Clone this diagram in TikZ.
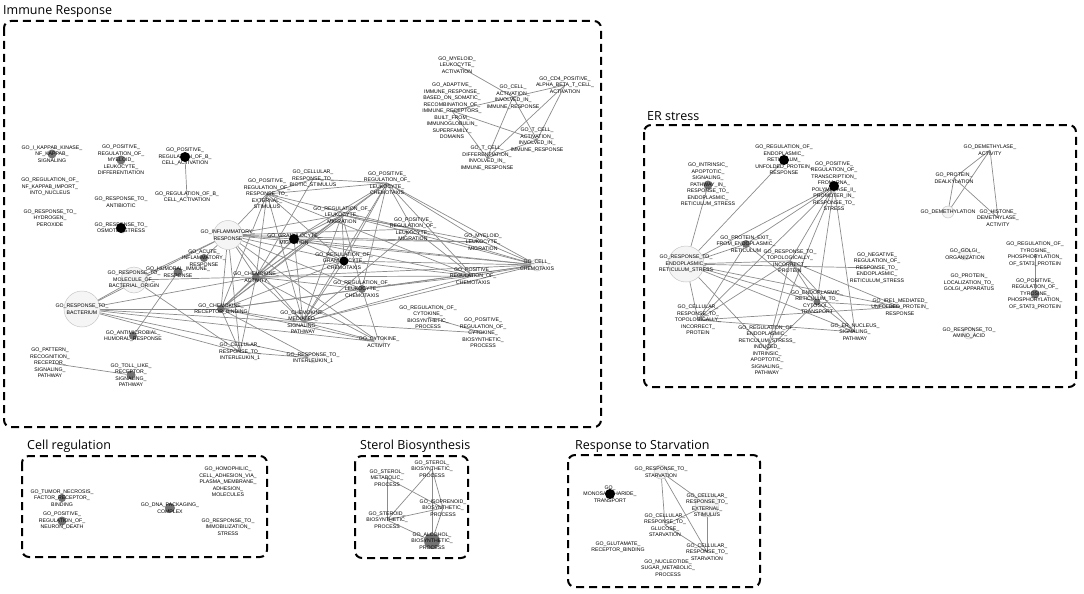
\documentclass[tikz,border=0pt]{standalone}
\usepackage{fontspec}
\setmainfont{Liberation Sans}
\newfontfamily\titlefont{Open Sans}
\newfontfamily\lblfamily{Liberation Sans}
\pgfdeclarelayer{bg}
\pgfsetlayers{bg,main}
\tikzset{
  lbl/.style={align=center,inner sep=0pt,font=\lblfamily\fontsize{5.2}{6.5}\selectfont},
  gnnone/.style={circle,inner sep=0pt,minimum size=0pt},
  gnlight/.style={circle,draw=black!22,fill=black!4,line width=0.5pt,minimum size=#1,inner sep=0pt},
  gndark/.style={circle,fill=black!55,minimum size=#1,inner sep=0pt},
  gnblack/.style={circle,fill=black,minimum size=#1,inner sep=0pt},
  gnlink/.style={draw=black!45,line width=0.7pt},
  grpbox/.style={draw=black,line width=2pt,dash pattern=on 8pt off 5pt,rounded corners=7pt},
  grptitle/.style={font=\titlefont\fontsize{12.5}{14}\selectfont,anchor=base west,inner sep=0pt}
}
\newcommand{\gon}[4]{\node[#3] (#1) at (#2) {}; \node[lbl] (#1-t) at (#2) {#4};}
\begin{document}
\begin{tikzpicture}[x=1pt,y=-1pt]
\useasboundingbox (0,0) rectangle (1084,594);

% group frames and titles
\draw[grpbox] (4,21) rectangle (601,427);
\draw[grpbox] (644,125) rectangle (1076,387);
\draw[grpbox] (22,456) rectangle (267,557);
\draw[grpbox] (355,456) rectangle (468,558);
\draw[grpbox] (568,455) rectangle (760,587);
\node[grptitle] (t1) at (3,15) {Immune Response};
\node[grptitle] (t2) at (647,120) {ER stress};
\node[grptitle] (t3) at (27,449) {Cell regulation};
\node[grptitle] (t4) at (360,449) {Sterol Biosynthesis};
\node[grptitle] (t5) at (575,449) {Response to Starvation};

% ---------------- Immune response ----------------
\gon{myelact}{457,65}{gnnone}{GO\_MYELOID\_\\LEUKOCYTE\_\\ACTIVATION}
\gon{adaptive}{452,111}{gnnone}{GO\_ADAPTIVE\_\\IMMUNE\_RESPONSE\_\\BASED\_ON\_SOMATIC\_\\RECOMBINATION\_OF\_\\IMMUNE\_RECEPTORS\_\\BUILT\_FROM\_\\IMMUNOGLOBULIN\_\\SUPERFAMILY\_\\DOMAINS}
\gon{cellact}{513,97}{gnnone}{GO\_CELL\_\\ACTIVATION\_\\INVOLVED\_IN\_\\IMMUNE\_RESPONSE}
\gon{cdfour}{565,85}{gnnone}{GO\_CD4\_POSITIVE\_\\ALPHA\_BETA\_T\_CELL\_\\ACTIVATION}
\gon{tcellact}{537,140}{gnnone}{GO\_T\_CELL\_\\ACTIVATION\_\\INVOLVED\_IN\_\\IMMUNE\_RESPONSE}
\gon{tcelldiff}{487,158}{gnnone}{GO\_T\_CELL\_\\DIFFERENTIATION\_\\INVOLVED\_IN\_\\IMMUNE\_RESPONSE}
\gon{ikappab}{52,154}{gndark=9pt}{GO\_I\_KAPPAB\_KINASE\_\\NF\_KAPPAB\_\\SIGNALING}
\gon{posmyeldiff}{121,160}{gndark=9pt}{GO\_POSITIVE\_\\REGULATION\_OF\_\\MYELOID\_\\LEUKOCYTE\_\\DIFFERENTIATION}
\gon{posbcell}{185,157}{gnblack=10pt}{GO\_POSITIVE\_\\REGULATION\_OF\_B\_\\CELL\_ACTIVATION}
\gon{regbcell}{187,197}{gnnone}{GO\_REGULATION\_OF\_B\_\\CELL\_ACTIVATION}
\gon{nfkappab}{50,187}{gnnone}{GO\_REGULATION\_OF\_\\NF\_KAPPAB\_IMPORT\_\\INTO\_NUCLEUS}
\gon{antibiotic}{121,202}{gnnone}{GO\_RESPONSE\_TO\_\\ANTIBIOTIC}
\gon{hydrogen}{50,218}{gnnone}{GO\_RESPONSE\_TO\_\\HYDROGEN\_\\PEROXIDE}
\gon{osmotic}{121,228}{gnblack=10pt}{GO\_RESPONSE\_TO\_\\OSMOTIC\_STRESS}
\gon{posregext}{267,194}{gnnone}{GO\_POSITIVE\_\\REGULATION\_OF\_\\RESPONSE\_TO\_\\EXTERNAL\_\\STIMULUS}
\gon{biotic}{313,179}{gnnone}{GO\_CELLULAR\_\\RESPONSE\_TO\_\\BIOTIC\_STIMULUS}
\gon{posleukchemo}{387,183}{gnnone}{GO\_POSITIVE\_\\REGULATION\_OF\_\\LEUKOCYTE\_\\CHEMOTAXIS}
\gon{regleukmig}{342,215}{gnnone}{GO\_REGULATION\_OF\_\\LEUKOCYTE\_\\MIGRATION}
\gon{posleukmig}{413,229}{gnnone}{GO\_POSITIVE\_\\REGULATION\_OF\_\\LEUKOCYTE\_\\MIGRATION}
\gon{inflam}{228,235}{gnlight=29pt}{GO\_INFLAMMATORY\_\\RESPONSE}
\gon{granmig}{294,239}{gnblack=10pt}{GO\_GRANULOCYTE\_\\MIGRATION}
\gon{reggranchemo}{344,261}{gnblack=9pt}{GO\_REGULATION\_OF\_\\GRANULOCYTE\_\\CHEMOTAXIS}
\gon{acute}{204,258}{gndark=8pt}{GO\_ACUTE\_\\INFLAMMATORY\_\\RESPONSE}
\gon{humoral}{178,272}{gndark=9pt}{GO\_HUMORAL\_IMMUNE\_\\RESPONSE}
\gon{chemoact}{256,277}{gndark=8pt}{GO\_CHEMOKINE\_\\ACTIVITY}
\gon{molbact}{134,280}{gnlight=26pt}{GO\_RESPONSE\_TO\_\\MOLECULE\_OF\_\\BACTERIAL\_ORIGIN}
\gon{bacterium}{82,309}{gnlight=36pt}{GO\_RESPONSE\_TO\_\\BACTERIUM}
\gon{regleukchemo}{362,289}{gndark=8pt}{GO\_REGULATION\_OF\_\\LEUKOCYTE\_\\CHEMOTAXIS}
\gon{chemorec}{221,309}{gndark=8pt}{GO\_CHEMOKINE\_\\RECEPTOR\_BINDING}
\gon{chemomed}{303,322}{gnnone}{GO\_CHEMOKINE\_\\MEDIATED\_\\SIGNALING\_\\PATHWAY}
\gon{cytoact}{379,342}{gnlight=10pt}{GO\_CYTOKINE\_\\ACTIVITY}
\gon{cellil}{240,352}{gnnone}{GO\_CELLULAR\_\\RESPONSE\_TO\_\\INTERLEUKIN\_1}
\gon{respil}{313,358}{gnlight=10pt}{GO\_RESPONSE\_TO\_\\INTERLEUKIN\_1}
\gon{antimicro}{133,336}{gndark=8pt}{GO\_ANTIMICROBIAL\_\\HUMORAL\_RESPONSE}
\gon{pattern}{50,363}{gnnone}{GO\_PATTERN\_\\RECOGNITION\_\\RECEPTOR\_\\SIGNALING\_\\PATHWAY}
\gon{toll}{131,375}{gndark=9pt}{GO\_TOLL\_LIKE\_\\RECEPTOR\_\\SIGNALING\_\\PATHWAY}
\gon{myelmig}{483,242}{gnnone}{GO\_MYELOID\_\\LEUKOCYTE\_\\MIGRATION}
\gon{cellchemo}{537,265}{gnlight=12pt}{GO\_CELL\_\\CHEMOTAXIS}
\gon{posregchemo}{473,276}{gnnone}{GO\_POSITIVE\_\\REGULATION\_OF\_\\CHEMOTAXIS}
\gon{regcytobio}{428,317}{gnnone}{GO\_REGULATION\_OF\_\\CYTOKINE\_\\BIOSYNTHETIC\_\\PROCESS}
\gon{posregcytobio}{483,333}{gnnone}{GO\_POSITIVE\_\\REGULATION\_OF\_\\CYTOKINE\_\\BIOSYNTHETIC\_\\PROCESS}

% ---------------- ER stress ----------------
\gon{ernupr}{784,160}{gnblack=10pt}{GO\_REGULATION\_OF\_\\ENDOPLASMIC\_\\RETICULUM\_\\UNFOLDED\_PROTEIN\_\\RESPONSE}
\gon{postrans}{834,186}{gnblack=10pt}{GO\_POSITIVE\_\\REGULATION\_OF\_\\TRANSCRIPTION\_\\FROM\_RNA\_\\POLYMERASE\_II\_\\PROMOTER\_IN\_\\RESPONSE\_TO\_\\STRESS}
\gon{intrinsic}{708,185}{gndark=9pt}{GO\_INTRINSIC\_\\APOPTOTIC\_\\SIGNALING\_\\PATHWAY\_IN\_\\RESPONSE\_TO\_\\ENDOPLASMIC\_\\RETICULUM\_STRESS}
\gon{resper}{686,264}{gnlight=36pt}{GO\_RESPONSE\_TO\_\\ENDOPLASMIC\_\\RETICULUM\_STRESS}
\gon{protexit}{746,244}{gndark=8pt}{GO\_PROTEIN\_EXIT\_\\FROM\_ENDOPLASMIC\_\\RETICULUM}
\gon{resptopo}{790,261}{gnnone}{GO\_RESPONSE\_TO\_\\TOPOLOGICALLY\_\\INCORRECT\_\\PROTEIN}
\gon{negreg}{877,268}{gnnone}{GO\_NEGATIVE\_\\REGULATION\_OF\_\\RESPONSE\_TO\_\\ENDOPLASMIC\_\\RETICULUM\_STRESS}
\gon{ertocyt}{817,302}{gndark=7pt}{GO\_ENDOPLASMIC\_\\RETICULUM\_TO\_\\CYTOSOL\_\\TRANSPORT}
\gon{ireone}{900,307}{gnnone}{GO\_IRE1\_MEDIATED\_\\UNFOLDED\_PROTEIN\_\\RESPONSE}
\gon{cellrestopo}{698,320}{gnnone}{GO\_CELLULAR\_\\RESPONSE\_TO\_\\TOPOLOGICALLY\_\\INCORRECT\_\\PROTEIN}
\gon{regerind}{767,350}{gnnone}{GO\_REGULATION\_OF\_\\ENDOPLASMIC\_\\RETICULUM\_STRESS\_\\INDUCED\_\\INTRINSIC\_\\APOPTOTIC\_\\SIGNALING\_\\PATHWAY}
\gon{ernucleus}{855,332}{gnnone}{GO\_ER\_NUCLEUS\_\\SIGNALING\_\\PATHWAY}
\gon{demethact}{990,150}{gnnone}{GO\_DEMETHYLASE\_\\ACTIVITY}
\gon{dealk}{954,178}{gnnone}{GO\_PROTEIN\_\\DEALKYLATION}
\gon{demethyl}{948,212}{gnlight=12pt}{GO\_DEMETHYLATION}
\gon{histone}{998,218}{gnnone}{GO\_HISTONE\_\\DEMETHYLASE\_\\ACTIVITY}
\gon{golgiorg}{965,254}{gnlight=12pt}{GO\_GOLGI\_\\ORGANIZATION}
\gon{golgiloc}{969,283}{gnnone}{GO\_PROTEIN\_\\LOCALIZATION\_TO\_\\GOLGI\_APPARATUS}
\gon{regtyr}{1035,254}{gnnone}{GO\_REGULATION\_OF\_\\TYROSINE\_\\PHOSPHORYLATION\_\\OF\_STAT3\_PROTEIN}
\gon{posregtyr}{1035,294}{gndark=9pt}{GO\_POSITIVE\_\\REGULATION\_OF\_\\TYROSINE\_\\PHOSPHORYLATION\_\\OF\_STAT3\_PROTEIN}
\gon{aminoacid}{969,333}{gnlight=12pt}{GO\_RESPONSE\_TO\_\\AMINO\_ACID}

% ---------------- Cell regulation ----------------
\gon{tnf}{62,498}{gndark=8pt}{GO\_TUMOR\_NECROSIS\_\\FACTOR\_RECEPTOR\_\\BINDING}
\gon{neurdeath}{62,521}{gndark=9pt}{GO\_POSITIVE\_\\REGULATION\_OF\_\\NEURON\_DEATH}
\gon{dnapack}{170,508}{gndark=10pt}{GO\_DNA\_PACKAGING\_\\COMPLEX}
\gon{homophilic}{228,482}{gnnone}{GO\_HOMOPHILIC\_\\CELL\_ADHESION\_VIA\_\\PLASMA\_MEMBRANE\_\\ADHESION\_\\MOLECULES}
\gon{immobil}{228,527}{gnnone}{GO\_RESPONSE\_TO\_\\IMMOBILIZATION\_\\STRESS}

% ---------------- Sterol biosynthesis ----------------
\gon{sterolmet}{387,478}{gnnone}{GO\_STEROL\_\\METABOLIC\_\\PROCESS}
\gon{sterolbio}{432,469}{gnnone}{GO\_STEROL\_\\BIOSYNTHETIC\_\\PROCESS}
\gon{isopren}{443,508}{gnnone}{GO\_ISOPRENOID\_\\BIOSYNTHETIC\_\\PROCESS}
\gon{steroid}{387,520}{gnnone}{GO\_STEROID\_\\BIOSYNTHETIC\_\\PROCESS}
\gon{alcohol}{432,541}{gndark=16pt}{GO\_ALCOHOL\_\\BIOSYNTHETIC\_\\PROCESS}

% ---------------- Response to starvation ----------------
\gon{respstarv}{661,472}{gnlight=14pt}{GO\_RESPONSE\_TO\_\\STARVATION}
\gon{monosac}{610,494}{gnblack=10pt}{GO\_\\MONOSACCHARIDE\_\\TRANSPORT}
\gon{cellext}{707,505}{gnlight=24pt}{GO\_CELLULAR\_\\RESPONSE\_TO\_\\EXTERNAL\_\\STIMULUS}
\gon{glucose}{665,525}{gnnone}{GO\_CELLULAR\_\\RESPONSE\_TO\_\\GLUCOSE\_\\STARVATION}
\gon{glutamate}{618,547}{gnnone}{GO\_GLUTAMATE\_\\RECEPTOR\_BINDING}
\gon{cellstarv}{707,552}{gnnone}{GO\_CELLULAR\_\\RESPONSE\_TO\_\\STARVATION}
\gon{nucleotide}{668,568}{gnnone}{GO\_NUCLEOTIDE\_\\SUGAR\_METABOLIC\_\\PROCESS}

% ---------------- connectors ----------------
\begin{pgfonlayer}{bg}
\foreach \a/\b in {myelact/cellact, cellact/adaptive, cellact/cdfour, cellact/tcelldiff, cellact/tcellact,
  cdfour/tcelldiff, cdfour/tcellact, adaptive/tcellact, adaptive/tcelldiff, tcelldiff/tcellact,
  posbcell/regbcell, pattern/toll, humoral/antimicro, regcytobio/posregcytobio,
  bacterium/molbact, bacterium/inflam, bacterium/chemoact, bacterium/chemorec, bacterium/cellil,
  bacterium/respil, bacterium/chemomed, bacterium/cytoact,
  molbact/inflam, molbact/cellil, molbact/chemoact, acute/inflam,
  inflam/granmig, inflam/reggranchemo, inflam/chemoact, inflam/chemorec, inflam/chemomed, inflam/cellil,
  inflam/posregext, inflam/cellchemo, inflam/posleukmig, inflam/regleukchemo, inflam/cytoact, inflam/myelmig, inflam/regleukmig,
  posregext/posleukchemo, posregext/biotic, posregext/posleukmig, posregext/posregchemo, posregext/chemorec,
  posregext/chemomed, posregext/reggranchemo, posregext/chemoact,
  biotic/chemoact, biotic/posleukchemo,
  posleukchemo/granmig, posleukchemo/reggranchemo, posleukchemo/regleukchemo, posleukchemo/cellchemo,
  posleukchemo/posregchemo, posleukchemo/chemoact, posleukchemo/chemomed, posleukchemo/posleukmig,
  posleukchemo/myelmig, posleukchemo/chemorec,
  regleukmig/granmig, regleukmig/reggranchemo, regleukmig/chemomed, regleukmig/regleukchemo, regleukmig/posleukmig,
  regleukmig/chemoact, regleukmig/cellchemo, regleukmig/myelmig, regleukmig/chemorec,
  granmig/chemoact, granmig/cellchemo, granmig/myelmig, granmig/reggranchemo, granmig/chemorec, granmig/posregchemo, granmig/chemomed,
  reggranchemo/chemoact, reggranchemo/cellchemo, reggranchemo/posregchemo, reggranchemo/chemomed, reggranchemo/chemorec,
  regleukchemo/chemoact, regleukchemo/chemomed, regleukchemo/cellchemo, regleukchemo/posregchemo, regleukchemo/chemorec, regleukchemo/cytoact,
  chemoact/chemorec, chemoact/chemomed, chemoact/cellchemo, chemoact/posregchemo, chemoact/cytoact, chemoact/cellil,
  chemorec/chemomed, chemorec/cytoact, chemorec/cellchemo, chemorec/cellil, chemorec/respil,
  chemomed/cellchemo, chemomed/posregchemo, chemomed/cytoact, chemomed/posregcytobio, cellil/respil,
  posleukmig/cellchemo, posleukmig/chemomed, posleukmig/posregchemo, posregchemo/cellchemo, myelmig/cellchemo,
  intrinsic/resper, ernupr/resper, postrans/resper, postrans/protexit, postrans/resptopo, postrans/cellrestopo,
  postrans/ertocyt, postrans/ernucleus, postrans/regerind,
  resper/resptopo, resper/negreg, resper/ireone, resper/ernucleus, resper/ertocyt, resper/cellrestopo, resper/regerind, resper/protexit,
  resptopo/cellrestopo, resptopo/ertocyt, resptopo/ernucleus, resptopo/regerind, resptopo/ireone,
  cellrestopo/ireone, cellrestopo/ernucleus, cellrestopo/protexit,
  protexit/ertocyt, ertocyt/regerind, ertocyt/ernucleus, ertocyt/ireone,
  demethact/dealk, demethact/demethyl, demethact/histone, dealk/demethyl, dealk/histone, regtyr/posregtyr,
  sterolmet/steroid, sterolmet/isopren, sterolbio/steroid, sterolbio/isopren, sterolbio/alcohol,
  steroid/isopren, steroid/alcohol, isopren/alcohol,
  respstarv/cellext, respstarv/glucose, respstarv/cellstarv, cellext/cellstarv, cellext/glucose, glucose/cellstarv}
  \draw[gnlink] (\a) -- (\b);
\end{pgfonlayer}
\end{tikzpicture}
\end{document}
